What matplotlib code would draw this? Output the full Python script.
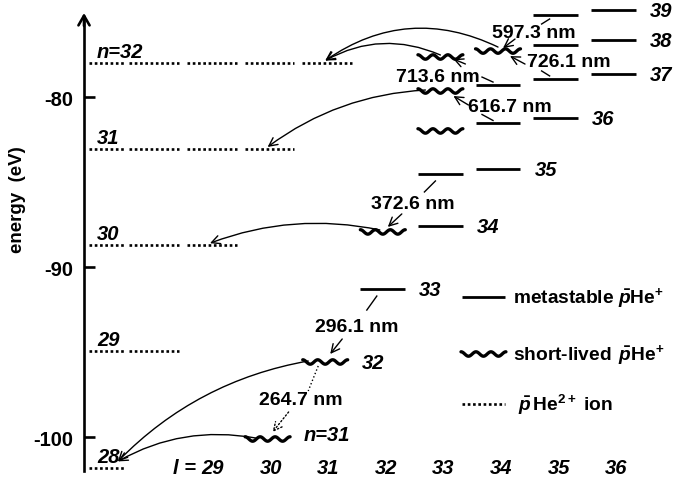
import numpy as np
import matplotlib.pyplot as plt

plt.rcParams['font.family'] = ['Liberation Sans', 'DejaVu Sans']
plt.rcParams['font.weight'] = 'bold'
plt.rcParams['axes.unicode_minus'] = False
plt.rcParams['mathtext.fontset'] = 'custom'
plt.rcParams['mathtext.rm'] = 'Liberation Sans:bold'
plt.rcParams['mathtext.it'] = 'Liberation Sans:italic:bold'
plt.rcParams['mathtext.bf'] = 'Liberation Sans:bold'

# pbar-He2+ ion levels
ion_n = [32, 31, 30, 29, 28]
ion_E = [-77.96, -83.07, -88.70, -94.93, -101.83]

# metastable pbar-He+ states (n, l, E in eV)
meta_n = [39, 39, 38, 38, 37, 37, 37, 36, 36, 35, 35, 34, 33]
meta_l = [35, 36, 35, 36, 34, 35, 36, 34, 35, 33, 34, 33, 32]
meta_E = [-75.16, -74.86, -76.92, -76.63, -79.28, -78.92, -78.63,
          -81.54, -81.22, -84.51, -84.22, -87.57, -91.28]

# short-lived pbar-He+ states
short_n = [38, 38, 37, 36, 34, 32, 31]
short_l = [33, 34, 33, 33, 32, 31, 30]
short_E = [-77.63, -77.28, -79.63, -81.98, -87.92, -95.57, -100.10]

# laser transitions (upper -> lower) and wavelengths in nm
trans_up = [(39, 35), (37, 35), (37, 34), (36, 34), (35, 33), (33, 32), (32, 31)]
trans_lo = [(38, 34), (38, 34), (38, 33), (37, 33), (34, 32), (32, 31), (31, 30)]
trans_nm = [597.3, 726.1, 713.6, 616.7, 372.6, 296.1, 264.7]

# Auger decays: short-lived state -> ion level
auger_from = [(38, 34), (38, 33), (37, 33), (34, 32), (32, 31), (31, 30)]
auger_to = [32, 32, 31, 30, 28, 28]

l_ticks = [29, 30, 31, 32, 33, 34, 35, 36]
row_labels = [39, 38, 37, 36, 35, 34, 33, 32, 31]

# layout (pixel offsets, y counted downwards)
label_off = [(-22, 17), (13, -17), (-60, -9), (12, -17), (-28, 30), (-26, 37), (-24, 38)]
tick_a = [(-6, 4), (-6, -3), (-5, -3), (-5, -3), (-5, 7), (-6, 7), (-7, 4)]
tick_b = [(-14, 9), (-14, -8), (-16, -8), (-16, -9), (-16, 18), (-16, 21), (-17, 29)]
arr_a = [(17, -12), (27, 13), (25, 7), (28, 14), (19, -18), (17, -23), (21, -27)]
arr_b = [(5, -3), (12, 5), (13, 2), (13, 5), (5, -5), (5, -8), (5, -7)]
auger_end_l = [31.0, 31.0, 30.0, 29.0, 27.4, 27.4]
auger_start = [(0, -4), (0, -2), (-15, -1), (-3, -2), (-17, -1), (-12, -1)]
auger_end_dy = [-2, -2, -2.5, -2, -7, -7]
auger_rad = [0.29, 0.245, 0.15, 0.145, 0.16, 0.18]

fig = plt.figure(figsize=(6.73, 4.85), dpi=100)
ax = fig.add_axes([0, 0, 1, 1])
xlim = (25.354, 37.038)
ylim = (-102.747, -74.218)
ax.set_xlim(*xlim)
ax.set_ylim(*ylim)
px_l = 673 / (xlim[1] - xlim[0])
px_E = 485 / (ylim[1] - ylim[0])


def off(p, d):
    return p[0] + d[0] / px_l, p[1] - d[1] / px_E


HW = 0.39
FS = 14.5
FS_NM = 14
FS_LEG = 13.8


def bar(l, E):
    ax.plot([l - HW, l + HW], [E, E], color='k', lw=2.0, solid_capstyle='butt')


def wave(l, E):
    u = np.linspace(0, 1, 90)
    ax.plot(l - HW + 2 * HW * u, E + 2.2 / px_E * np.cos(2 * np.pi * 3 * u),
            color='k', lw=2.4, solid_capstyle='round')


def dotted(x0, x1, E):
    ax.plot([x0, x1], [E, E], color='k', lw=1.9, linestyle=(0, (1, 1)))


states = {}
for n, l, E in zip(meta_n, meta_l, meta_E):
    states[(n, l)] = (l, E)
    bar(l, E)
for n, l, E in zip(short_n, short_l, short_E):
    states[(n, l)] = (l, E)
    wave(l, E)

ions = dict(zip(ion_n, ion_E))
for n, E in zip(ion_n, ion_E):
    dotted(26.9, 27.52, E)
    for l in range(28, n):
        dotted(l - 0.4, l + 0.46, E)
    ax.text(27.04, E + 6 / px_E, 'n=32' if n == 32 else str(n),
            style='italic', fontsize=FS, va='baseline', ha='left')

# row labels to the right of each n
for n in row_labels:
    ls = [k[1] for k in states if k[0] == n]
    l, E = states[(n, max(ls))]
    txt = 'n=31' if n == 31 else str(n)
    dy = 1 if n == 31 else 6
    ax.text(l + HW + 14 / px_l, E - dy / px_E, txt, style='italic',
            fontsize=FS, va='baseline', ha='left')

# laser transitions
for i, (up, lo, nm) in enumerate(zip(trans_up, trans_lo, trans_nm)):
    pu, pl = states[up], states[lo]
    ls = ':' if i == len(trans_nm) - 1 else '-'
    ax.text(*off(pu, label_off[i]), f'{nm} nm', fontsize=FS_NM, ha='center', va='center')
    a, b = off(pu, tick_a[i]), off(pu, tick_b[i])
    ax.plot([a[0], b[0]], [a[1], b[1]], color='k', lw=1.0, linestyle=ls)
    ax.annotate('', xy=off(pl, arr_b[i]), xytext=off(pl, arr_a[i]),
                arrowprops=dict(arrowstyle='->,head_length=0.6,head_width=0.3',
                                color='k', lw=1.0, linestyle=ls, shrinkA=0,
                                shrinkB=0, mutation_scale=10))

# Auger decays to the ion levels
for i, (src, n) in enumerate(zip(auger_from, auger_to)):
    ax.annotate('', xy=(auger_end_l[i], ions[n] - auger_end_dy[i] / px_E),
                xytext=off(states[src], auger_start[i]),
                arrowprops=dict(arrowstyle='->,head_length=0.6,head_width=0.3',
                                connectionstyle=f'arc3,rad={auger_rad[i]}',
                                color='k', lw=1.0, shrinkA=0, shrinkB=0,
                                mutation_scale=10))

# energy axis
x_axis = 26.8125
for s in ['top', 'right', 'bottom']:
    ax.spines[s].set_visible(False)
ax.spines['left'].set_position(('data', x_axis))
ax.spines['left'].set_bounds(-101.98, -75.3)
ax.spines['left'].set_linewidth(1.9)
ax.annotate('', xy=(x_axis, -75.04), xytext=(x_axis, -75.8),
            arrowprops=dict(arrowstyle='->,head_length=0.7,head_width=0.4',
                            color='k', lw=1.9, shrinkA=0, shrinkB=0,
                            mutation_scale=10))
ax.set_yticks([-80, -90, -100])
ax.tick_params(axis='y', direction='in', length=8, width=1.9, pad=8, labelsize=FS)
ax.set_xticks([])
fig.text(18 / 673, 1 - 200 / 485, 'energy  (eV)', rotation=90, fontsize=13.5,
         ha='center', va='center')

# angular momentum labels
y_l = -101.75
for l in l_ticks:
    ax.text(l + 3 / px_l, y_l, str(l), style='italic', fontsize=FS,
            ha='center', va='center')
ax.text(l_ticks[0] - 14 / px_l, y_l, 'l =', style='italic', fontsize=FS,
        ha='right', va='center')

# legend
lx0, lx1 = 33.375, 34.12
bar_l = (lx0 + lx1) / 2
ax.plot([lx0, lx1], [-91.75, -91.75], color='k', lw=2.0, solid_capstyle='butt')
wave(bar_l, -95.1)
dotted(lx0, lx1, -98.04)
ax.text(34.26, -91.75, r'metastable $\bar{p}$He$^{+}$', fontsize=FS_LEG, va='center')
ax.text(34.26, -95.1, r'short-lived $\,\bar{p}$He$^{+}$', fontsize=FS_LEG, va='center')
ax.text(34.35, -98.04, r'$\bar{p}\,$He$^{2+}$ ion', fontsize=FS_LEG, va='center')

fig.savefig('out.png', dpi=100)
